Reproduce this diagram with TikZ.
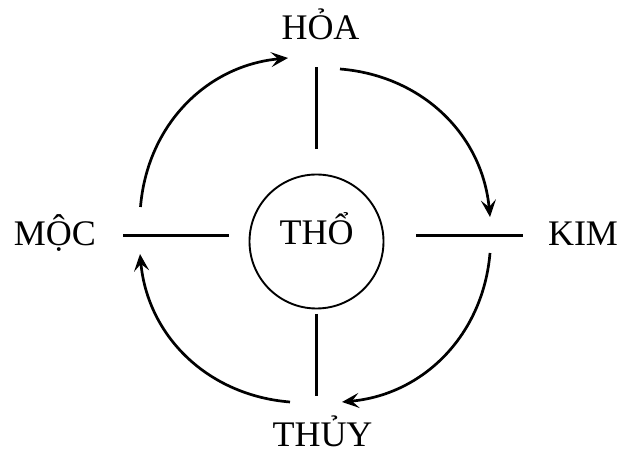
\documentclass[tikz,border=0pt]{standalone}
\usepackage{fontspec}
\setmainfont{Liberation Serif}
\usepackage{tikz}
\usetikzlibrary{arrows.meta,positioning}
\tikzset{
  elembox/.style={
    inner sep=0pt,
    font=\fontsize{36}{40}\selectfont,
    text height=21pt,
    text depth=0pt,
    anchor=base
  },
  centerbox/.style={
    draw,
    circle,
    line width=1.9pt,
    minimum size=134pt,
    inner sep=0pt,
    font=\fontsize{36}{40}\selectfont,
    text height=25pt,
    text depth=18pt
  },
  spoke/.style={line width=2.3pt},
  cyclearrow/.style={-{Stealth[length=17pt, width=15pt, inset=7pt]}, line width=2.7pt}
}
\begin{document}
\begin{tikzpicture}[x=1pt, y=1pt]
\useasboundingbox (0,0) rectangle (620,452);
\node[centerbox] (tho) at (316.5,210.5) {THỔ};
\node[elembox] (hoa)  at (320.5,412) {HỎA};
\node[elembox] (kim)  at (583,206) {KIM};
\node[elembox] (thuy) at (322.5,6) {THỦY};
\node[elembox] (moc)  at (55,206) {MỘC};
% spokes round the centre
\draw[spoke, shorten <=24.5pt, shorten >=27pt] (tho.north) -- (tho.north |- hoa.south);
\draw[spoke, shorten <=4.5pt, shorten >=29pt] (tho.south) -- (tho.south |- thuy.north);
\draw[spoke, shorten <=27pt, shorten >=19.5pt] (moc.east) -- (moc.east -| tho.west);
\draw[spoke, shorten <=25pt, shorten >=31.5pt] (kim.west) -- (kim.west -| tho.east);
% arc ends
\coordinate (mocout)  at (140.5,245);
\coordinate (hoain)   at (288,394);
\coordinate (hoaout)  at (340,383);
\coordinate (kimin)   at (490,235);
\coordinate (kimout)  at (490,199);
\coordinate (thuyin)  at (342,50);
\coordinate (thuyout) at (290,50);
\coordinate (mocin)   at (140,198);
% Moc -> Hoa
\draw[cyclearrow] (mocout) to[bend left=40] (hoain);
% Hoa -> Kim
\draw[cyclearrow] (hoaout) to[bend left=40] (kimin);
% Kim -> Thuy
\draw[cyclearrow] (kimout) to[bend left=40] (thuyin);
% Thuy -> Moc
\draw[cyclearrow] (thuyout) to[bend left=40] (mocin);
\end{tikzpicture}
\end{document}
